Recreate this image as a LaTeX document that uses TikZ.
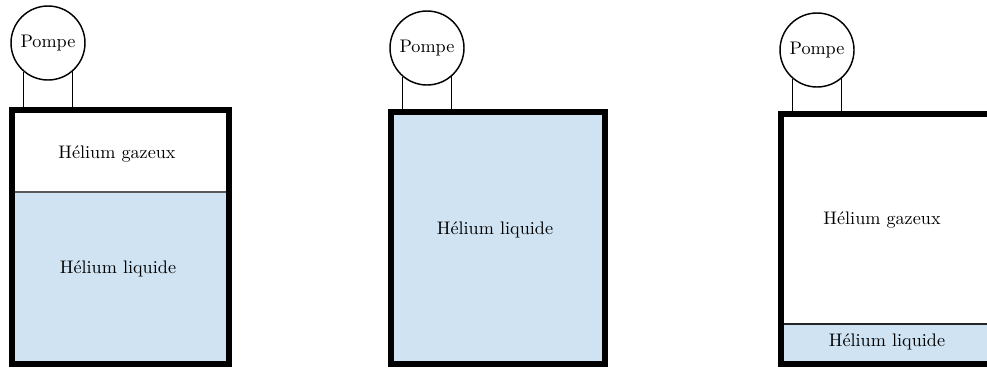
\documentclass[tikz,border=0pt]{standalone}
\begin{document}
\begin{tikzpicture}[x=0.55pt,y=-0.55pt,
  pump/.style={circle,draw,line width=0.8pt,minimum size=40.7pt,inner sep=0pt,font=\normalsize},
  pipe/.style={line width=0.6pt},
  wall/.style={line width=3.4pt,line join=miter},
  liq/.style={fill=liqblue},
  iface/.style={line width=0.6pt,draw=black!65},
  lbl/.style={font=\normalsize,inner sep=0pt}]
\definecolor{liqblue}{RGB}{207,227,242}
\useasboundingbox (0,0) rectangle (987,367);
\clip (0,0) rectangle (987,367);
% ---------- Panel 1 ----------
\coordinate (a1) at (12,110);
\coordinate (c1) at (229,364);
\coordinate (i1) at (12,192);
\fill[liqblue] (i1) rectangle (c1);
\draw[iface] (i1) -- (i1 -| c1);
\draw[wall] (a1) rectangle (c1);
\node[pump] (p1) at (48,43) {Pompe};
\draw[pipe] (p1.-130.6) -- (p1.-130.6 |- a1);
\draw[pipe] (p1.-49.4) -- (p1.-49.4 |- a1);
\node[lbl] (g1) at (117,154) {Hélium gazeux};
\node[lbl] (l1) at (118,269) {Hélium liquide};
% ---------- Panel 2 ----------
\coordinate (a2) at (391,112);
\coordinate (c2) at (605,364);
\fill[liqblue] (a2) rectangle (c2);
\draw[wall] (a2) rectangle (c2);
\node[pump] (p2) at (427,48) {Pompe};
\draw[pipe] (p2.-130.6) -- (p2.-130.6 |- a2);
\draw[pipe] (p2.-49.4) -- (p2.-49.4 |- a2);
\node[lbl] (l2) at (495,230) {Hélium liquide};
% ---------- Panel 3 ----------
\coordinate (a3) at (781,114);
\coordinate (c3) at (998,364);
\coordinate (i3) at (781,324);
\fill[liqblue] (i3) rectangle (c3);
\draw[iface,draw=black!85] (i3) -- (i3 -| c3);
\draw[wall] (a3) rectangle (c3);
\node[pump] (p3) at (817,50) {Pompe};
\draw[pipe] (p3.-130.6) -- (p3.-130.6 |- a3);
\draw[pipe] (p3.-49.4) -- (p3.-49.4 |- a3);
\node[lbl] (g3) at (882,220) {Hélium gazeux};
\node[lbl] (l3) at (887,342) {Hélium liquide};
\end{tikzpicture}
\end{document}
